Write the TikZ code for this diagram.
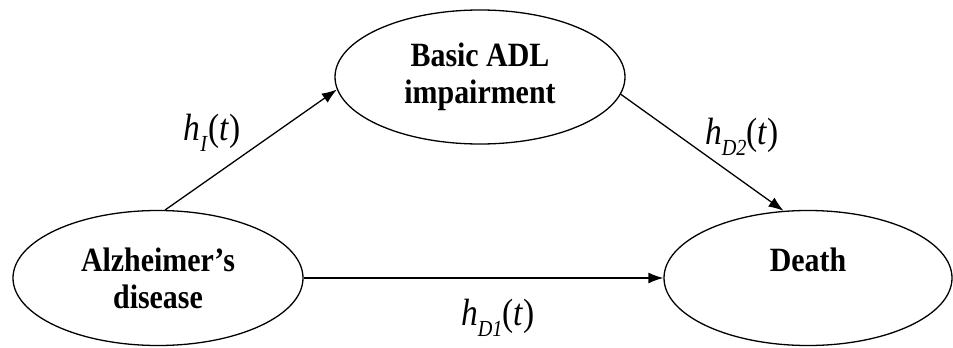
\documentclass[tikz,border=0pt]{standalone}
\usepackage{fontspec}
\setmainfont{Liberation Serif}
\newfontfamily\condfont[FakeStretch=0.88]{Liberation Serif}
\usetikzlibrary{shapes.geometric,arrows.meta}
\newcommand{\hlab}[1]{\textit{h}\raisebox{-0.28em}{\fontsize{23}{23}\selectfont\textit{#1}}(\textit{t})}
\begin{document}
\begin{tikzpicture}[x=1pt,y=-1pt,
  state/.style={ellipse,draw,line width=1.3pt,inner sep=0pt,align=center,
    font=\condfont\fontsize{34}{37}\selectfont\bfseries},
  arr/.style={line width=1.3pt,-{Latex[length=15pt,width=11pt]}},
  lab/.style={font=\condfont\fontsize{38}{38}\selectfont,inner sep=0pt}]
\useasboundingbox (0,0) rectangle (953,348);
\node[state,minimum width=290pt,minimum height=134pt] (B) at (480,77) {Basic ADL\\impairment};
\node[state,minimum width=290pt,minimum height=135pt] (A) at (158,278) {Alzheimer’s\\disease};
\node[state,minimum width=288pt,minimum height=135pt] (D) at (808,278) {Death\\\mbox{}};
\draw[arr] (A.84) -- (B.185);
\draw[arr] (B.-7.5) -- (D.110);
\draw[arr] (A.0) -- (D.180);
\node[lab] (l1) at (212,133) {\hlab{I}};
\node[lab] (l2) at (742,137) {\hlab{D2}};
\node[lab] (l3) at (498,318) {\hlab{D1}};
\end{tikzpicture}
\end{document}
